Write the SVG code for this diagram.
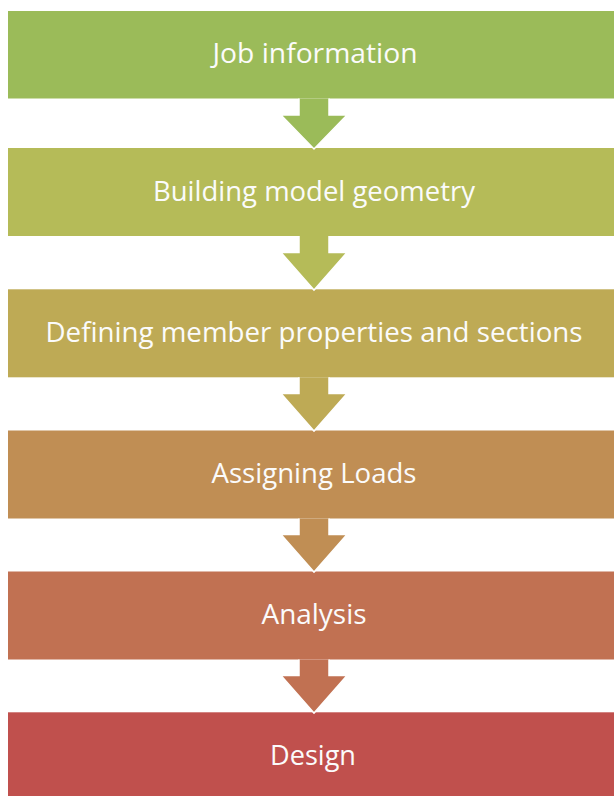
<svg xmlns="http://www.w3.org/2000/svg" width="614" height="796" viewBox="0 0 614 796">
  <style>
    .step text { font-family: "Open Sans", "Noto Sans", "Liberation Sans", sans-serif; font-size: 28px; fill: #fbfbfb; text-anchor: middle; }
    .arrow { stroke: #ffffff; stroke-width: 1.5; stroke-linejoin: miter; }
  </style>
  <rect width="614" height="796" fill="#ffffff"/>

  <!-- process steps -->
  <g id="step-job" class="step">
    <rect x="8" y="11" width="612" height="87.5" fill="#9BBB59"/>
    <text x="315" y="63" textLength="205" lengthAdjust="spacingAndGlyphs">Job information</text>
  </g>
  <g id="step-geometry" class="step">
    <rect x="8" y="148" width="612" height="88" fill="#B5BB58"/>
    <text x="314" y="201" textLength="322" lengthAdjust="spacingAndGlyphs">Building model geometry</text>
  </g>
  <g id="step-properties" class="step">
    <rect x="8" y="289.3" width="612" height="88" fill="#BEAA55"/>
    <text x="314" y="342" textLength="537" lengthAdjust="spacingAndGlyphs">Defining member properties and sections</text>
  </g>
  <g id="step-loads" class="step">
    <rect x="8" y="430.5" width="612" height="88" fill="#C08E54"/>
    <text x="314" y="483" textLength="205" lengthAdjust="spacingAndGlyphs">Assigning Loads</text>
  </g>
  <g id="step-analysis" class="step">
    <rect x="8" y="571.5" width="612" height="88" fill="#C17152"/>
    <text x="314" y="624" textLength="105" lengthAdjust="spacingAndGlyphs">Analysis</text>
  </g>
  <g id="step-design" class="step">
    <rect x="8" y="712.3" width="612" height="88" fill="#C0504D"/>
    <text x="313" y="765" textLength="86" lengthAdjust="spacingAndGlyphs">Design</text>
  </g>

  <!-- down arrows; open paths so the top edge touching the box carries no outline -->
  <g id="connectors">
    <path class="arrow" fill="#9BBB59" d="M299 98.5 V115 H281 L314 149 L347 115 H329 V98.5"/>
    <path class="arrow" fill="#B5BB58" d="M299 236 V252.5 H281 L314 290 L347 252.5 H329 V236"/>
    <path class="arrow" fill="#BEAA55" d="M299 377.3 V393.5 H281 L314 431 L347 393.5 H329 V377.3"/>
    <path class="arrow" fill="#C08E54" d="M299 518.5 V534.5 H281 L314 572 L347 534.5 H329 V518.5"/>
    <path class="arrow" fill="#C17152" d="M299 659.5 V675.5 H281 L314 713 L347 675.5 H329 V659.5"/>
  </g>
</svg>
